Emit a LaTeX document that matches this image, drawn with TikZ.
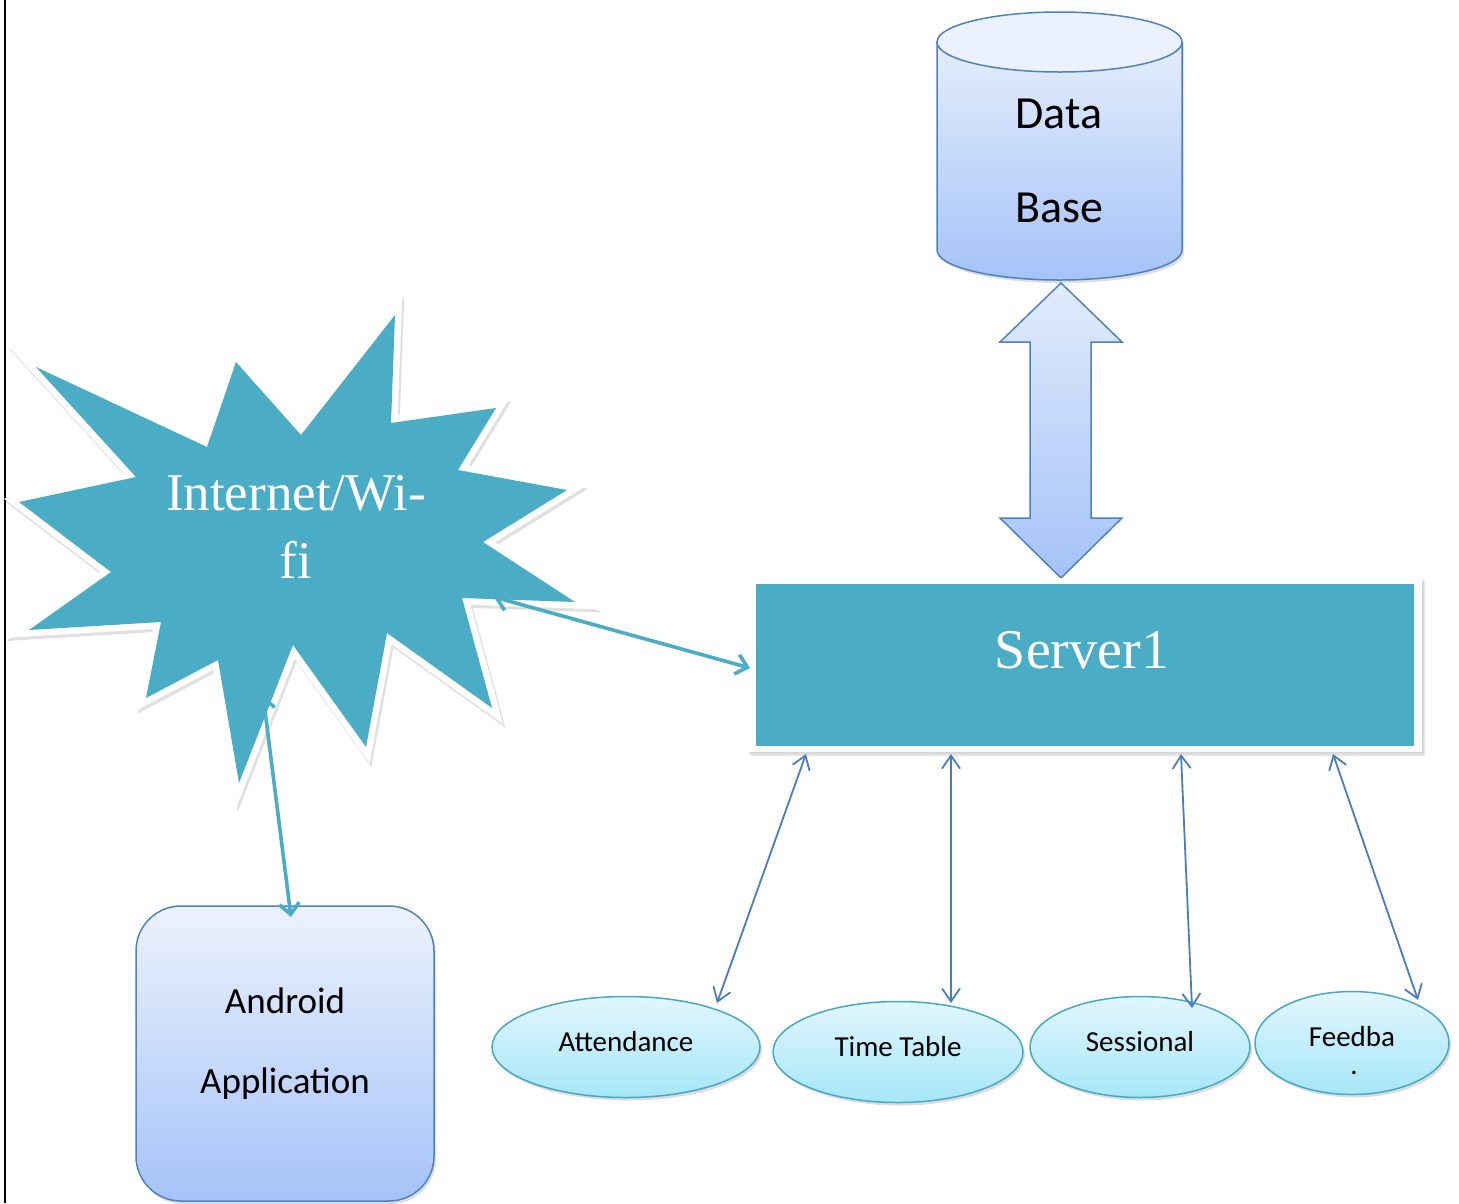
\documentclass[tikz,border=0pt]{standalone}
\usepackage{fontspec}
\setmainfont{Carlito}
\newfontfamily\timesf{Liberation Serif}
\usetikzlibrary{arrows.meta,shadows,shapes.geometric}
\definecolor{teal5}{HTML}{4BACC6}
\definecolor{bstroke}{HTML}{4F81BD}
\definecolor{arrowblue}{HTML}{4A7EBB}
\definecolor{dbtop}{HTML}{ECF2FD}
\definecolor{dbbot}{HTML}{A5C3F8}
\definecolor{elltop}{HTML}{E2F6FD}
\definecolor{ellbot}{HTML}{A5E6F9}
\definecolor{ellstroke}{HTML}{47A8C4}
\def\starpath{(395,315) -- (391,423) -- (496,408) -- (458,470) -- (567,490) -- (483,542)
  -- (575,602) -- (462,598) -- (492,708) -- (387,633) -- (366,747) -- (293,645)
  -- (239,783) -- (218,660) -- (146,698) -- (161,622) -- (29,630) -- (111,572)
  -- (19,502) -- (136,477) -- (36,367) -- (207,447) -- (236,362) -- (301,435) -- cycle}
\begin{document}
\begin{tikzpicture}[x=1pt,y=-1pt,
  shad/.style={drop shadow={shadow xshift=2pt,shadow yshift=-3pt,opacity=.22,fill=black!60}},
  barrow/.style={draw=arrowblue, line width=1.8pt, {Straight Barb[length=13pt,width=18pt]}-{Straight Barb[length=13pt,width=18pt]}},
  tarrow/.style={draw=teal5, line width=3.6pt, {Straight Barb[length=11pt,width=20pt]}-{Straight Barb[length=11pt,width=20pt]}},
  ell/.style={ellipse, draw=ellstroke, line width=1.5pt, top color=elltop, bottom color=ellbot, shad, inner sep=0pt},
  dbline/.style={draw=bstroke, line width=1.5pt},
  calib/.style={font=\fontsize{29}{34}\selectfont, text=black, anchor=base, inner sep=0pt},
  big/.style={font=\fontsize{46}{52}\selectfont, text=black, anchor=base, inner sep=0pt},
  mid/.style={font=\fontsize{37}{44}\selectfont, text=black, anchor=base, inner sep=0pt},
  serif/.style={font=\timesf\fontsize{53}{68}\selectfont, text=white, anchor=base, inner sep=0pt},
]
\useasboundingbox (0,0) rectangle (1459,1203);
\fill[white] (0,0) rectangle (1459,1203);

% left border
\coordinate (bt) at (5,0);
\coordinate (bb) at (5,1203);
\draw[line width=1.6pt] (bt) -- (bb);

% database cylinder
\path[shad, top color=dbtop, bottom color=dbbot] (937,42) -- (937,250)
  arc[start angle=180,end angle=0,x radius=122.5,y radius=30] -- (1182,42)
  arc[start angle=0,end angle=-180,x radius=122.5,y radius=30] -- cycle;
\draw[dbline] (937,42) -- (937,250)
  arc[start angle=180,end angle=0,x radius=122.5,y radius=30] -- (1182,42);
\draw[dbline, fill=dbtop] (1059.5,42) ellipse[x radius=122.5, y radius=30];
\coordinate (db) at (1061,283);
\node[big] (dbt1) at (1059,128) {Data};
\node[big] (dbt2) at (1059,222) {Base};

% block double arrow
\coordinate (blk) at (1061,578);
\path[top color=dbtop!85!dbbot, bottom color=dbbot, draw=bstroke, line width=1.5pt, line join=miter]
  (db) -- (1122,342) -- (1091,342) -- (1091,518) -- (1122,518) -- (blk)
  -- (1000,518) -- (1030,518) -- (1030,342) -- (1000,342) -- cycle;

% server: shadow, white frame, teal body
\fill[black, opacity=.10] (750,581) rectangle (1425,756);
\fill[black, opacity=.06] (749,579) rectangle (1424,754);
\fill[white] (748,578) rectangle (1422,752);
\node[fill=teal5, minimum width=658pt, minimum height=162pt, inner sep=0pt] (server) at (1085,665) {};
\node[font=\timesf\fontsize{56}{60}\selectfont, text=white, anchor=base, inner sep=0pt] (servt) at (1082,668) {Server1};

% star: shadow, white outline, teal body
\begin{scope}[transparency group, opacity=.12]
\path[draw=black, fill=black, line width=14pt, line join=miter, miter limit=10, shift={(1.5,2.5)}] \starpath;
\end{scope}
\path[draw=white, line width=13pt, line join=miter, miter limit=10] \starpath;
\path[fill=teal5] \starpath;
\node[serif] (st1) at (296,510) {Internet/Wi-};
\node[serif] (st2) at (296,578) {fi};

% android
\node[draw=bstroke, line width=1.5pt, rounded corners=45pt, minimum width=298pt, minimum height=295pt,
  top color=dbtop, bottom color=dbbot, shad] (android) at (285,1053.5) {};
\node[mid] (an1) at (285,1013) {Android};
\node[mid] (an2) at (285,1093) {Application};

% ellipses
\node[ell, minimum width=268pt, minimum height=101pt] (att) at (626,1047) {};
\node[ell, minimum width=250pt, minimum height=101pt] (tt) at (898,1052) {};
\node[ell, minimum width=220pt, minimum height=101pt] (ses) at (1140,1047) {};
\node[ell, minimum width=194pt, minimum height=103pt] (fb) at (1352,1043) {};
\node[calib] (attt) at (626,1051) {Attendance};
\node[calib] (ttt) at (898,1056) {Time Table};
\node[calib] (sest) at (1140,1051) {Sessional};
\node[calib] (fbt) at (1352,1046) {Feedba};
\node[calib] (fbd) at (1354,1074) {.};

% blue connectors
\coordinate (s1) at (806,754);  \coordinate (e1) at (717,1003);
\coordinate (s2) at (951,754);  \coordinate (e2) at (951,1003);
\coordinate (s3) at (1181,754); \coordinate (e3) at (1192,1008);
\coordinate (s4) at (1333,754); \coordinate (e4) at (1418,1000);
\draw[barrow] (s1) -- (e1);
\draw[barrow] (s2) -- (e2);
\draw[barrow] (s3) -- (e3);
\draw[barrow] (s4) -- (e4);

% teal connectors
\coordinate (ws) at (494,597); \coordinate (sv) at (750,668);
\coordinate (wb) at (263,695); \coordinate (ap) at (291,917);
\draw[tarrow] (ws) -- (sv);
\draw[tarrow] (wb) -- (ap);
\end{tikzpicture}
\end{document}
